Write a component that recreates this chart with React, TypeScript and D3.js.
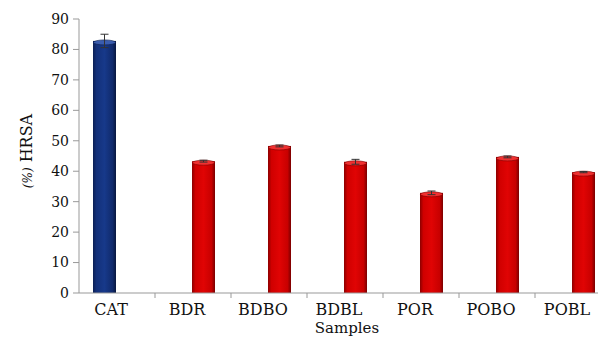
import React from "react";
import * as d3 from "d3";

const categories = ["CAT", "BDR", "BDBO", "BDBL", "POR", "POBO", "POBL"];
// Standard (first series) and sample extracts (second series)
const standardValues = [82.8, 0, 0, 0, 0, 0, 0];
const standardErrors = [2.2, 0, 0, 0, 0, 0, 0];
const sampleValues = [0, 43.3, 48.3, 43.1, 32.9, 44.7, 39.7];
const sampleErrors = [0, 0.3, 0.3, 0.8, 0.6, 0.3, 0.2];
const yTicks = [0, 10, 20, 30, 40, 50, 60, 70, 80, 90];

const W = 598;
const H = 338;
const left = 79;
const bottom = 293;
const top = 19;
const step = 76;

export default function App() {
  const x = d3
    .scaleBand<string>()
    .domain(categories)
    .range([left, left + step * categories.length])
    .paddingInner(0)
    .paddingOuter(0);
  const sub = d3.scaleBand<string>().domain(["std", "smp"]).range([-24, 22]);
  const y = d3.scaleLinear().domain([0, 90]).range([bottom, top]);

  const series = [
    { key: "std", values: standardValues, errors: standardErrors, grad: "gBlue", cap: "#3a5cae", rim: "#0a1d4d" },
    { key: "smp", values: sampleValues, errors: sampleErrors, grad: "gRed", cap: "#f03030", rim: "#7a0000" },
  ];

  const font = "'DejaVu Serif', serif";
  const bw = sub.bandwidth();

  return (
    <svg width={W} height={H} style={{ position: "absolute", left: 0, top: 0, background: "#fff" }}>
      <defs>
        <linearGradient id="gBlue" x1="0" x2="1" y1="0" y2="0">
          <stop offset="0" stopColor="#0b1f55" />
          <stop offset="0.15" stopColor="#13307a" />
          <stop offset="0.5" stopColor="#17398a" />
          <stop offset="0.85" stopColor="#102a6c" />
          <stop offset="1" stopColor="#08173f" />
        </linearGradient>
        <linearGradient id="gRed" x1="0" x2="1" y1="0" y2="0">
          <stop offset="0" stopColor="#8c0000" />
          <stop offset="0.15" stopColor="#d00000" />
          <stop offset="0.5" stopColor="#e00404" />
          <stop offset="0.85" stopColor="#c80000" />
          <stop offset="1" stopColor="#7a0000" />
        </linearGradient>
      </defs>

      {/* bars */}
      {series.map((s) =>
        categories.map((c, i) => {
          const v = s.values[i];
          if (!v) return null;
          const bx = (x(c) as number) + x.bandwidth() / 2 + (sub(s.key) as number);
          const by = y(v);
          const e = s.errors[i];
          const cx = bx + bw / 2;
          return (
            <g key={s.key + c}>
              <rect x={bx} y={by} width={bw} height={bottom - by} fill={`url(#${s.grad})`} />
              <ellipse cx={cx} cy={by + 1.5} rx={bw / 2 - 0.5} ry={2.5} fill={s.cap} stroke={s.rim} strokeWidth={0.6} />
              {e > 0 && (
                <g stroke="#333" strokeWidth={1}>
                  <line x1={cx} x2={cx} y1={y(v + e)} y2={y(v - e)} />
                  <line x1={cx - 4} x2={cx + 4} y1={y(v + e)} y2={y(v + e)} />
                  <line x1={cx - 4} x2={cx + 4} y1={y(v - e)} y2={y(v - e)} />
                </g>
              )}
            </g>
          );
        })
      )}

      {/* y axis */}
      <line x1={left} x2={left} y1={top} y2={bottom} stroke="#999" strokeWidth={1} />
      {yTicks.map((t) => (
        <g key={t}>
          <line x1={left - 6} x2={left} y1={y(t)} y2={y(t)} stroke="#999" />
          <text x={left - 10} y={y(t)} dy="0.35em" textAnchor="end" style={{ fontFamily: font }} fontSize={14} fill="#111">
            {t}
          </text>
        </g>
      ))}

      {/* x axis */}
      <line x1={left} x2={W} y1={bottom} y2={bottom} stroke="#999" strokeWidth={1} />
      {categories.map((c, i) => (
        <g key={c}>
          {i > 0 && (
            <line x1={x(c) as number} x2={x(c) as number} y1={bottom} y2={bottom + 5} stroke="#999" />
          )}
          <text
            x={(x(c) as number) + x.bandwidth() / 2 - 6}
            y={315}
            textAnchor="middle"
            style={{ fontFamily: font }}
            fontSize={16}
            fill="#111"
          >
            {c}
          </text>
        </g>
      ))}

      <text x={347} y={333} textAnchor="middle" style={{ fontFamily: font }} fontSize={15} fill="#111">
        Samples
      </text>
      <text
        transform={`translate(32,151) rotate(-90)`}
        textAnchor="middle"
        style={{ fontFamily: font }}
        fontSize={16}
        fill="#111"
      >
        <tspan fontSize={12} fontStyle="italic">(%)</tspan>
        <tspan> HRSA</tspan>
      </text>
    </svg>
  );
}
